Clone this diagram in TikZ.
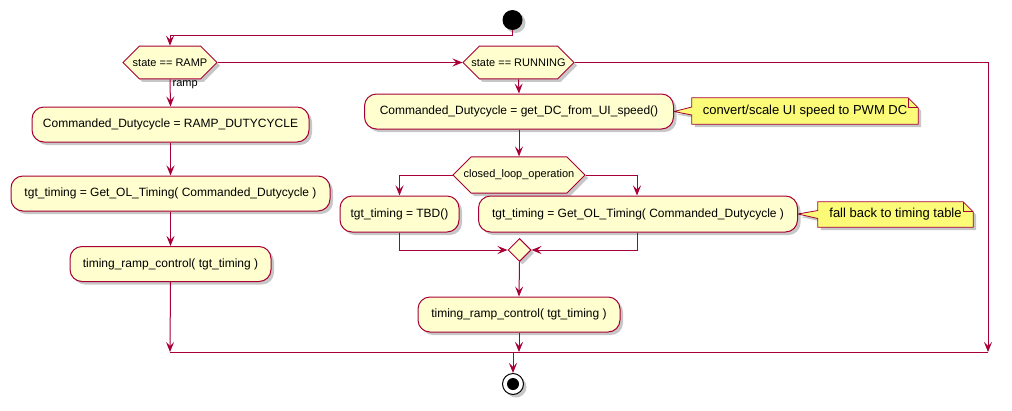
\documentclass[tikz,border=0pt]{standalone}
\usepackage{fontspec}
\setmainfont{Liberation Sans}
\usetikzlibrary{shapes.misc,shapes.geometric,arrows.meta,shadows,backgrounds,calc}
\definecolor{pborder}{HTML}{A80036}
\definecolor{pfill}{HTML}{FEFECE}
\definecolor{nfill}{HTML}{FBFB77}
\newcommand\notebox[2]{%
  \begin{scope}[on background layer]
  \path[notebg] (#1.north west) -- ($(#1.north east)+(-10,0)$) -- ($(#1.north east)+(0,10)$) -- (#1.south east) -- (#1.south west) -- ($(#1.west)+(0,4)$) -- (#2) -- ($(#1.west)+(0,-4)$) -- cycle;
  \draw[pborder, line width=0.8pt] ($(#1.north east)+(-10,0)$) |- ($(#1.north east)+(0,10)$);
  \end{scope}}
\begin{document}
\begin{tikzpicture}[x=1pt,y=-1pt,
  shad/.style={drop shadow={shadow xshift=3pt,shadow yshift=-3pt,fill=black,opacity=0.22}},
  act/.style={draw=pborder, fill=pfill, line width=1pt, rounded corners=12pt, minimum height=35pt, inner sep=0pt, font=\fontsize{12}{14}\selectfont, shad},
  hex/.style={chamfered rectangle, chamfered rectangle xsep=9pt, chamfered rectangle ysep=12.5pt, draw=pborder, fill=pfill, line width=1pt, minimum height=25pt, inner sep=0pt, font=\fontsize{11}{13}\selectfont, shad},
  merge/.style={diamond, aspect=1, draw=pborder, fill=pfill, line width=1pt, minimum width=23pt, minimum height=23pt, inner sep=0pt, shad},
  notetext/.style={minimum height=26pt, inner sep=0pt, font=\fontsize{13}{15}\selectfont},
  notebg/.style={draw=pborder, fill=nfill, line width=0.8pt, shad},
  arr/.style={draw=pborder, line width=1pt, -{Stealth[length=10pt,width=8pt,inset=4pt]}},
  ln/.style={draw=pborder, line width=1pt},
  lbl/.style={font=\fontsize{11}{13}\selectfont, inner sep=1pt}
]
\useasboundingbox (0,0) rectangle (1012,410);

% start / end
\node[circle, fill=black, minimum size=20pt, inner sep=0pt, shad] (S) at (512.5,20) {};
\node[circle, draw=black, fill=white, line width=1pt, minimum size=21pt, inner sep=0pt, shad] (E) at (513,384) {};
\node[circle, fill=black, minimum size=12pt, inner sep=0pt] (Ein) at (E.center) {};

% decisions
\node[hex, minimum width=94pt] (R) at (170,62.5) {state == RAMP};
\node[hex, minimum width=111pt] (Run) at (518.5,62.5) {state == RUNNING};
\node[hex, minimum width=132pt, minimum height=26pt, chamfered rectangle ysep=13pt] (CL) at (519,175) {closed\_loop\_operation};

% left branch
\node[act, minimum width=277pt] (A1) at (170.5,124.5) {Commanded\_Dutycycle = RAMP\_DUTYCYCLE};
\node[act, minimum width=319pt] (A2) at (170.5,193.5) {tgt\_timing = Get\_OL\_Timing( Commanded\_Dutycycle )};
\node[act, minimum width=201pt] (A3) at (170.5,264) {timing\_ramp\_control( tgt\_timing )};

% right branch
\node[act, minimum width=309pt] (B1) at (519,111.5) {Commanded\_Dutycycle = get\_DC\_from\_UI\_speed()};
\node[act, minimum width=119pt, minimum height=36pt] (T) at (399.5,214) {tgt\_timing = TBD()};
\node[act, minimum width=319pt, minimum height=36pt] (B2) at (638,214) {tgt\_timing = Get\_OL\_Timing( Commanded\_Dutycycle )};
\node[merge] (D) at (519.5,250) {};
\node[act, minimum width=202pt] (B3) at (519,314.5) {timing\_ramp\_control( tgt\_timing )};

% notes
\node[notetext, minimum width=226pt] (N1) at (805,111) {convert/scale UI speed to PWM DC};
\notebox{N1}{B1.east}
\node[notetext, minimum width=155pt, minimum height=25pt] (N2) at (895.5,214.5) {fall back to timing table};
\notebox{N2}{B2.east}

% junction coordinates
\coordinate (j1) at (170,35);
\coordinate (m1) at (170,352);
\coordinate (m2) at (519,352);
\coordinate (m3) at (988,352);
\coordinate (m4) at (513,352);

% connectors
\draw[arr] (S.south) |- (j1) -- (R.north);
\draw[arr] (R.east) -- (Run.west);
\node[lbl, anchor=north west] (rl) at ($(R.south)+(1.5,0)$) {ramp};
\draw[arr] (R.south) -- (A1.north);
\draw[arr] (A1.south) -- (A2.north);
\draw[arr] (A2.south) -- (A3.north);
\draw[arr] (A3.south) -- (m1);

\draw[arr] (Run.east) -| (m3);
\draw[arr] (Run.south) -- (B1.north);
\draw[arr] (B1.south) -- (CL.north);
\draw[arr] (CL.west) -| (T.north);
\draw[arr] (CL.east) -| ($(B2.north)+(-1,0)$);
\draw[arr] (T.south) |- (D.west);
\draw[arr] ($(B2.south)+(-1,0)$) |- (D.east);
\draw[arr] (D.south) -- (B3.north);
\draw[arr] (B3.south) -- (m2);

\draw[ln] (m1) -- (m3);
\draw[arr] (m4) -- (E.north);
\end{tikzpicture}
\end{document}
